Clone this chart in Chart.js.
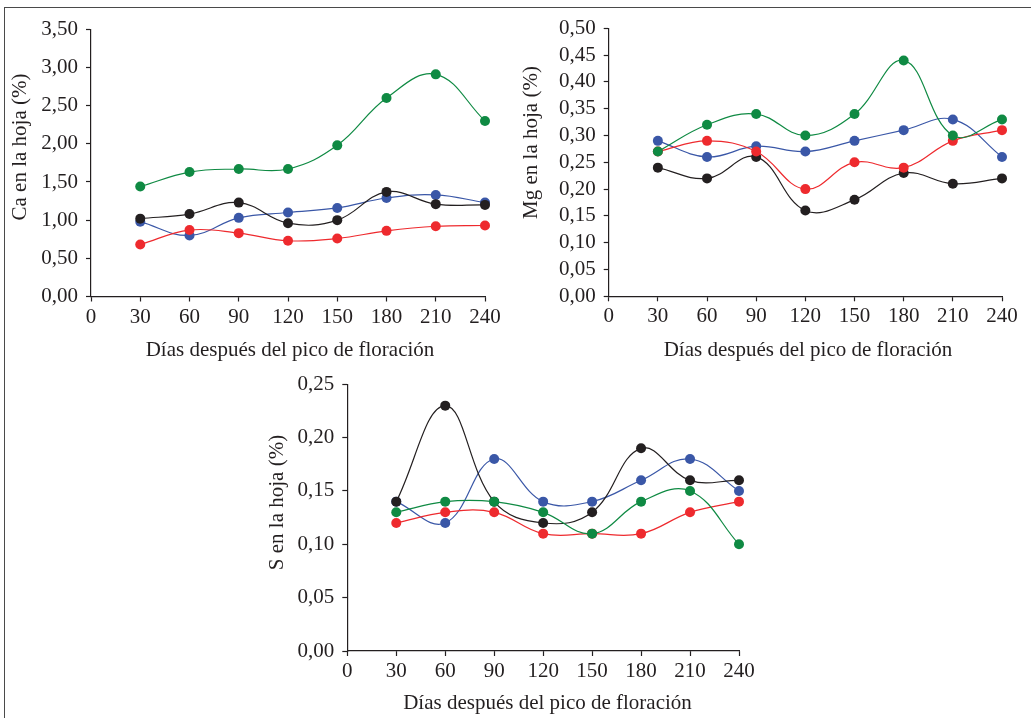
<!DOCTYPE html>
<html>
<head>
<meta charset="utf-8">
<script src="https://cdn.jsdelivr.net/npm/chart.js@4"></script>
<style>
  body { margin: 0; background: #fff; }
  #fig { position: relative; width: 1031px; height: 718px; overflow: hidden; }
  #frame { position: absolute; left: 4px; top: 7px; right: 0; bottom: 0;
           border-top: 1.5px solid #4a4a4a; border-left: 1.5px solid #4a4a4a; }
  canvas { position: absolute; left: 0; top: 0; }
</style>
</head>
<body>
<div id="fig">
  <div id="frame"></div>
  <canvas id="ca" width="1031" height="718"></canvas>
  <canvas id="mg" width="1031" height="718"></canvas>
  <canvas id="s" width="1031" height="718"></canvas>
</div>
<script>
// días después del pico de floración
var dias = [30, 60, 90, 120, 150, 180, 210, 240]

// Ca (%)
var caVerde = [1.44, 1.63, 1.67, 1.67, 1.98, 2.60, 2.91, 2.30]
var caRojo  = [0.68, 0.87, 0.83, 0.73, 0.76, 0.86, 0.92, 0.93]
var caNegro = [1.02, 1.08, 1.23, 0.96, 1.00, 1.37, 1.21, 1.20]
var caAzul  = [0.98, 0.80, 1.03, 1.10, 1.16, 1.29, 1.33, 1.23]

// Mg (%)
var mgVerde = [0.27, 0.32, 0.34, 0.30, 0.34, 0.44, 0.30, 0.33]
var mgRojo  = [0.27, 0.29, 0.27, 0.20, 0.25, 0.24, 0.29, 0.31]
var mgNegro = [0.24, 0.22, 0.26, 0.16, 0.18, 0.23, 0.21, 0.22]
var mgAzul  = [0.29, 0.26, 0.28, 0.27, 0.29, 0.31, 0.33, 0.26]

// S (%)
var sVerde = [0.13, 0.14, 0.14, 0.13, 0.11, 0.14, 0.15, 0.10]
var sRojo  = [0.12, 0.13, 0.13, 0.11, 0.11, 0.11, 0.13, 0.14]
var sNegro = [0.14, 0.23, 0.14, 0.12, 0.13, 0.19, 0.16, 0.16]
var sAzul  = [0.14, 0.12, 0.18, 0.14, 0.14, 0.16, 0.18, 0.15]

var colores = ["#0f8a43", "#ee2a2e", "#231f20", "#3a57a7"]
var tinta = "#231f20"
var fuente = { family: "'Liberation Serif', 'Times New Roman', serif", size: 21 }
var tituloX = "Días después del pico de floración"

function serie(valores, color) {
  return {
    data: dias.map(function (d, i) { return { x: d, y: valores[i] } }),
    borderColor: color,
    backgroundColor: color,
    borderWidth: 1.2,
    pointRadius: 5,
    pointBorderWidth: 0,
    tension: 0.4,
    clip: false,
    fill: false
  }
}

// rotated y title and x title drawn at fixed spots
var titulos = {
  id: 'titulos',
  afterDraw: function (chart, args, opts) {
    var ctx = chart.ctx
    ctx.save()
    ctx.fillStyle = tinta
    ctx.font = fuente.size + "px " + fuente.family
    ctx.textAlign = 'center'
    ctx.textBaseline = 'middle'
    ctx.fillText(tituloX, opts.xt[0], opts.xt[1])
    ctx.translate(opts.yt[0], opts.yt[1])
    ctx.rotate(-Math.PI / 2)
    ctx.fillText(opts.ytext, 0, 0)
    ctx.restore()
  }
}

function panel(id, series, ymax, ystep, area, ytext, yt, xt) {
  var W = 1031, H = 718, yW = 60, xH = 40
  new Chart(document.getElementById(id), {
    type: 'line',
    data: {
      datasets: series.map(function (v, i) { return serie(v, colores[i]) })
    },
    options: {
      responsive: false,
      animation: false,
      layout: {
        padding: {
          left: area.left - yW,
          right: W - area.right,
          top: area.top,
          bottom: H - area.bottom - xH
        }
      },
      plugins: {
        legend: { display: false },
        tooltip: { enabled: false },
        titulos: { ytext: ytext, yt: yt, xt: xt }
      },
      scales: {
        x: {
          type: 'linear', min: 0, max: 240,
          afterFit: function (s) { s.height = xH },
          border: { color: tinta, width: 1.2 },
          grid: { drawOnChartArea: false, tickLength: 5, color: tinta, tickWidth: 1.2 },
          ticks: { stepSize: 30, color: tinta, font: fuente, padding: 3, maxRotation: 0, autoSkip: false }
        },
        y: {
          min: 0, max: ymax,
          afterFit: function (s) { s.width = yW },
          border: { color: tinta, width: 1.2 },
          grid: { drawOnChartArea: false, tickLength: 5, color: tinta, tickWidth: 1.2 },
          ticks: {
            stepSize: ystep, color: tinta, font: fuente, padding: 8, autoSkip: false,
            callback: function (v) { return v.toFixed(2).replace('.', ',') }
          }
        }
      }
    },
    plugins: [titulos]
  })
}

panel('ca', [caVerde, caRojo, caNegro, caAzul], 3.5, 0.5,
  { left: 91, right: 485, top: 29.3, bottom: 296.5 },
  "Ca en la hoja (%)", [20, 147], [290, 350])

panel('mg', [mgVerde, mgRojo, mgNegro, mgAzul], 0.5, 0.05,
  { left: 608.7, right: 1002, top: 28.3, bottom: 296.3 },
  "Mg en la hoja (%)", [531, 142.5], [808, 350])

panel('s', [sVerde, sRojo, sNegro, sAzul], 0.25, 0.05,
  { left: 347.3, right: 739, top: 384.3, bottom: 651 },
  "S en la hoja (%)", [277, 502.5], [547.5, 703])
</script>
</body>
</html>
